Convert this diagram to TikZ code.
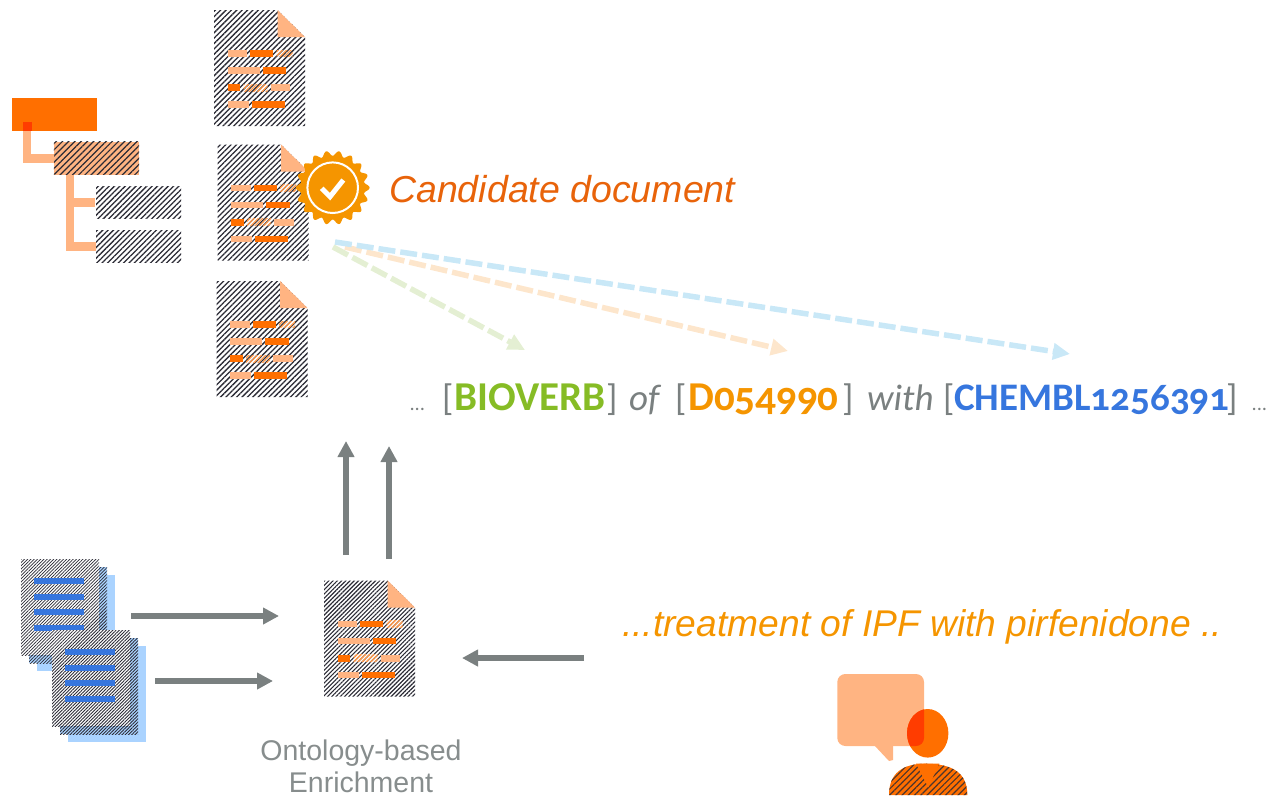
\documentclass[tikz,border=0pt]{standalone}
\usepackage{fontspec}
\setmainfont{Liberation Sans}
\newfontfamily\termfont[Numbers=OldStyle]{Carlito}
\usetikzlibrary{arrows.meta,patterns.meta}
\definecolor{hatchdark}{HTML}{2B2B35}
\definecolor{darkorange}{HTML}{FF6F00}
\definecolor{peach}{HTML}{FFB482}
\definecolor{overlapred}{HTML}{FF3C00}
\definecolor{badgeorange}{HTML}{F59500}
\definecolor{arrowgrey}{HTML}{7A8080}
\definecolor{docblue}{HTML}{3676DE}
\definecolor{paleblue}{HTML}{AAD3FF}
\definecolor{termgreen}{HTML}{86BC25}
\definecolor{dashgreen}{HTML}{E4EFD3}
\definecolor{dashorange}{HTML}{FDE6CC}
\definecolor{dashblue}{HTML}{C9E8F7}
\definecolor{candidateorange}{HTML}{E8630A}
\tikzset{
	hatchwide/.style={preaction={fill=white},pattern={Lines[angle=45,distance=3.8pt,line width=1.3pt]},pattern color=hatchdark},
	hatchfine/.style={preaction={fill=white},pattern={Lines[angle=45,distance=3pt,line width=1.1pt]},pattern color=hatchdark},
	hatchstack/.style={preaction={fill=white},pattern={Lines[angle=45,distance=2.3pt,line width=0.8pt]},pattern color=hatchdark},
	treebox/.style={inner sep=0pt,minimum width=85pt,minimum height=32.5pt},
	treelink/.style={line width=8.5pt,color=peach},
	greyarrow/.style={line width=5.5pt,color=arrowgrey,-{Triangle[length=16pt,width=16pt]}},
	dasharrow/.style={line width=5.5pt,dash pattern=on 17pt off 5pt,-{Triangle[length=17pt,width=16pt]}},
	term/.style={anchor=base west,inner sep=0pt,font=\termfont\fontsize{37}{40}\selectfont},
	keyterm/.style={term,font=\termfont\bfseries\fontsize{41}{44}\selectfont},
	dotsterm/.style={term,text=arrowgrey,font=\termfont\itshape\fontsize{20}{24}\selectfont}
}
% page with its folded corner and text bars, #1 #2 top left, #3 hatch
\def\docpage(#1,#2)#3{
	\begin{scope}[shift={(#1,#2)}]
		\fill[#3] (0,0) -- (63.5,0) -- (91,27) -- (91,116) -- (0,116) -- cycle;
		\fill[peach] (63.5,0) -- (91,27) -- (63.5,27) -- cycle;
		\fill[peach] (13.5,40) rectangle (33,46.5);
		\fill[darkorange] (36,40) rectangle (59,46.5);
		\fill[pattern={Lines[angle=45,distance=3pt,line width=1.3pt]},pattern color=darkorange!70] (62.5,40) rectangle (78.5,46.5);
		\fill[peach] (13.5,57) rectangle (45.5,63.5);
		\fill[darkorange] (48.5,57) rectangle (72,63.5);
		\fill[darkorange] (13.5,74) rectangle (26,81);
		\fill[pattern={Lines[angle=45,distance=3pt,line width=1.3pt]},pattern color=darkorange!70] (29.5,74) rectangle (53.5,81);
		\fill[peach] (56.5,74) rectangle (76,81);
		\fill[peach] (13.5,91) rectangle (34.5,97.5);
		\fill[darkorange] (37.5,91) rectangle (70.5,97.5);
	\end{scope}
}
% three sheets with four blue lines, #1 #2 top left of the front sheet
\def\docstack(#1,#2){
	\begin{scope}[shift={(#1,#2)}]
		\fill[paleblue] (16,16) rectangle (94,112);
		\fill[paleblue] (8,8) rectangle (86,104);
		\fill[pattern={Lines[angle=45,distance=2.3pt,line width=0.8pt]},pattern color=hatchdark] (8,8) rectangle (86,104);
		\fill[hatchstack] (0,0) rectangle (78,96);
		\fill[docblue] (12.5,19) rectangle (62.5,25);
		\fill[docblue] (12.5,34.5) rectangle (62.5,40.5);
		\fill[docblue] (12.5,50) rectangle (62.5,56);
		\fill[docblue] (12.5,65.5) rectangle (62.5,71.5);
	\end{scope}
}

\begin{document}
\begin{tikzpicture}[x=1pt,y=-1pt]
	%%%%% START %%%%%
	\useasboundingbox (0,0) rectangle (1268,795);

	% tree
	\node[treebox,fill=darkorange] (rootbox) at (54,114.25) {};
	\node[treebox,fill=peach] (midbox) at (96.5,158.35) {};
	\fill[pattern={Lines[angle=45,distance=4.4pt,line width=1.2pt]},pattern color=hatchdark] (midbox.north west) rectangle (midbox.south east);
	\node[treebox,hatchwide] (leafa) at (138.5,202.25) {};
	\node[treebox,hatchwide] (leafb) at (138.5,246.25) {};
	\draw[treelink] ([xshift=15.5pt,yshift=9pt]rootbox.south west) |- (midbox.west);
	\draw[treelink] ([xshift=16pt]midbox.south west) |- (leafa.west);
	\draw[treelink] ([xshift=16pt]midbox.south west) |- (leafb.west);
	\fill[overlapred] (23.25,121.5) rectangle (31.75,130.5);

	% pages
	\docpage(214,10){hatchwide}
	\docpage(217.5,144.5){hatchwide}
	\docpage(216.5,281){hatchwide}
	\docpage(324,580.5){hatchfine}

	% badge
	\fill[badgeorange] plot[domain=0:360,samples=289,smooth] ({332.7+(34.4+2.5*cos(18*\x))*cos(\x)},{187.7+(34.4+2.5*cos(18*\x))*sin(\x)}) -- cycle;
	\draw[white,line width=2pt] (332.7,187.7) circle (25.3);
	\draw[white,line width=5pt] (321.7,188.3) -- (330,196.7) -- (343.3,180);

	\node[anchor=base west,inner sep=0pt,text=candidateorange,font=\itshape\fontsize{37.5}{40}\selectfont] (candidate) at (389,202) {Candidate document};

	% dashed arrows into the sentence
	\coordinate (greenfrom) at (333,247);
	\coordinate (greento) at (525,350);
	\coordinate (orangefrom) at (345,247);
	\coordinate (orangeto) at (788,351);
	\coordinate (bluefrom) at (335,242);
	\coordinate (blueto) at (1070,354);
	\draw[dasharrow,color=dashgreen] (greenfrom) -- (greento);
	\draw[dasharrow,color=dashorange] (orangefrom) -- (orangeto);
	\draw[dasharrow,color=dashblue] (bluefrom) -- (blueto);

	% sentence
	\node[dotsterm] (dotsa) at (410,410) {...};
	\node[term,text=arrowgrey] (opena) at (442,410) {[};
	\node[keyterm,text=termgreen] (bioverb) at (454,410) {BIOVERB};
	\node[term,text=arrowgrey] (closea) at (606,410) {]};
	\node[term,text=arrowgrey] (wordof) at (629,410) {\itshape of};
	\node[term,text=arrowgrey] (openb) at (675,410) {[};
	\node[keyterm,text=badgeorange] (meshid) at (688,410) {D054990};
	\node[term,text=arrowgrey] (closeb) at (842,410) {]};
	\node[term,text=arrowgrey] (wordwith) at (867,410) {\itshape with};
	\node[term,text=arrowgrey] (openc) at (943,410) {[};
	\node[keyterm,text=docblue,font=\termfont\bfseries\fontsize{39}{42}\selectfont] (chemblid) at (954,410) {CHEMBL1256391};
	\node[term,text=arrowgrey] (closec) at (1226,410) {]};
	\node[dotsterm] (dotsb) at (1252,410) {...};

	% grey arrows
	\coordinate (upafrom) at (346,555);
	\coordinate (upato) at (346,441);
	\coordinate (upbfrom) at (389,559);
	\coordinate (upbto) at (389,446);
	\coordinate (stackafrom) at (131,616);
	\coordinate (stackato) at (279,616);
	\coordinate (stackbfrom) at (155,681);
	\coordinate (stackbto) at (273,681);
	\coordinate (queryfrom) at (584,658);
	\coordinate (queryto) at (462,658);
	\draw[greyarrow] (upafrom) -- (upato);
	\draw[greyarrow] (upbfrom) -- (upbto);
	\draw[greyarrow] (stackafrom) -- (stackato);
	\draw[greyarrow] (stackbfrom) -- (stackbto);
	\draw[greyarrow] (queryfrom) -- (queryto);

	% stacks
	\docstack(21,559)
	\docstack(52,630)

	\node[anchor=south,align=center,inner sep=0pt,text=arrowgrey!90!white,font=\fontsize{28.5}{32}\selectfont] (enrichment) at (361,793) {Ontology-based\\Enrichment};
	\node[anchor=base west,inner sep=0pt,text=badgeorange,font=\itshape\fontsize{37.2}{40}\selectfont] (query) at (622,636) {...treatment of IPF with pirfenidone ..};

	% person
	\fill[peach,rounded corners=8pt] (837.3,674) rectangle (924,746);
	\fill[peach,line join=round] (874,745) -- (889,761) -- (893,760) -- (893,745) -- cycle;
	\fill[darkorange] (927.7,733.3) ellipse (20.7 and 24.3);
	\begin{scope}
		\clip[rounded corners=8pt] (837.3,674) rectangle (924,746);
		\fill[overlapred] (927.7,733.3) ellipse (20.7 and 24.3);
	\end{scope}
	\fill[darkorange] (889,795) .. controls (889,773) and (903,763.7) .. (925,763.7) .. controls (953,763.7) and (967.3,773) .. (967.3,795) -- cycle;
	\fill[pattern={Lines[angle=45,distance=4.4pt,line width=1.2pt]},pattern color=hatchdark!85!darkorange] (889,795) .. controls (889,773) and (903,763.7) .. (925,763.7) .. controls (953,763.7) and (967.3,773) .. (967.3,795) -- cycle;
	\fill[darkorange] (916,763.7) -- (928.3,787.3) -- (939.3,763.7) -- cycle;
	%%%%% END %%%%%
\end{tikzpicture}
\end{document}
